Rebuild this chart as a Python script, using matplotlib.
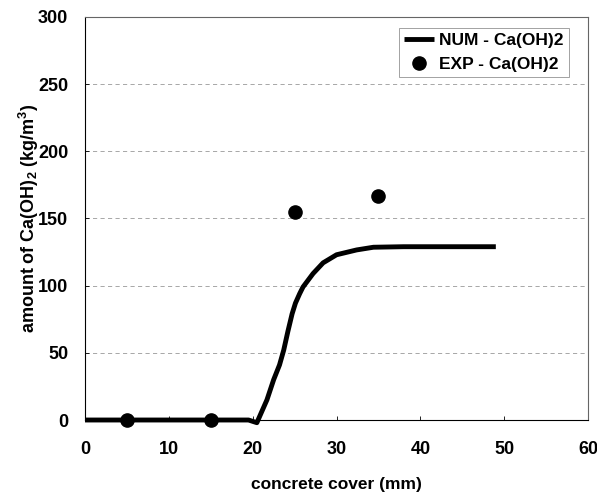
import numpy as np
import matplotlib
matplotlib.use("Agg")
import matplotlib.pyplot as plt

plt.rcParams['font.family'] = ['Liberation Sans', 'DejaVu Sans']
plt.rcParams['font.weight'] = 'bold'
plt.rcParams['mathtext.fontset'] = 'custom'
plt.rcParams['mathtext.rm'] = 'Liberation Sans:bold'
plt.rcParams['mathtext.bf'] = 'Liberation Sans:bold'

# numerical profile
num_x = [0, 5, 10, 15, 19.5, 20.5, 21.7, 22.5, 23.2, 23.7, 24.2, 24.7, 25.1, 25.6,
         26.0, 27.2, 28.4, 30.0, 32.4, 34.4, 38, 42, 46, 49]
num_y = [0, 0, 0, 0, 0, -2, 15, 30, 41, 52, 66, 79, 87, 94,
         99, 109, 117, 123, 126.6, 128.6, 129, 129, 129, 129]

# experimental points
exp_x = [5, 15, 25, 35]
exp_y = [0, 0, 155, 167]

xticks = [0, 10, 20, 30, 40, 50, 60]
yticks = [0, 50, 100, 150, 200, 250, 300]

fig = plt.figure(figsize=(5.97, 4.95), dpi=100)
ax = fig.add_axes([0.1424, 0.1515, 0.8426, 0.8142])

ax.plot(num_x, num_y, color='black', lw=3.5, label='NUM - Ca(OH)2', zorder=3,
        clip_on=False, solid_capstyle='butt', solid_joinstyle='round')
ax.plot(exp_x, exp_y, 'o', color='black', ms=9.5, label='EXP - Ca(OH)2', zorder=4,
        clip_on=False)

ax.set_xlim(0, 60)
ax.set_ylim(0, 300)
ax.set_xticks(xticks)
ax.set_yticks(yticks)
ax.tick_params(direction='in', length=3, width=0.6, labelsize=13)
ax.tick_params(axis='x', pad=15)
ax.tick_params(axis='y', pad=12)
for lab in ax.get_xticklabels() + ax.get_yticklabels():
    lab.set_fontweight('bold')

ax.yaxis.grid(True, linestyle=(0, (5, 4)), color='#999999', lw=0.6)
ax.set_axisbelow(True)
for s in ax.spines.values():
    s.set_color('#666666')
    s.set_linewidth(0.8)
ax.spines['bottom'].set_color('black')
ax.spines['left'].set_color('black')

ax.set_xlabel('concrete cover (mm)', fontsize=12.5, fontweight='bold', labelpad=14)
ax.set_ylabel(r'amount of Ca(OH)$_\mathbf{2}$ (kg/m$^\mathbf{3}$)', fontsize=13,
              fontweight='bold', labelpad=-2)

leg = ax.legend(loc='upper right', fontsize=12.5, frameon=True, fancybox=False,
                edgecolor='#777777', handlelength=1.7, handletextpad=0.3,
                borderpad=0.3, labelspacing=0.5, borderaxespad=0,
                bbox_to_anchor=(0.962, 0.973))
leg.get_frame().set_linewidth(0.6)
for t in leg.get_texts():
    t.set_fontweight('bold')

fig.savefig('out.png', dpi=100)
